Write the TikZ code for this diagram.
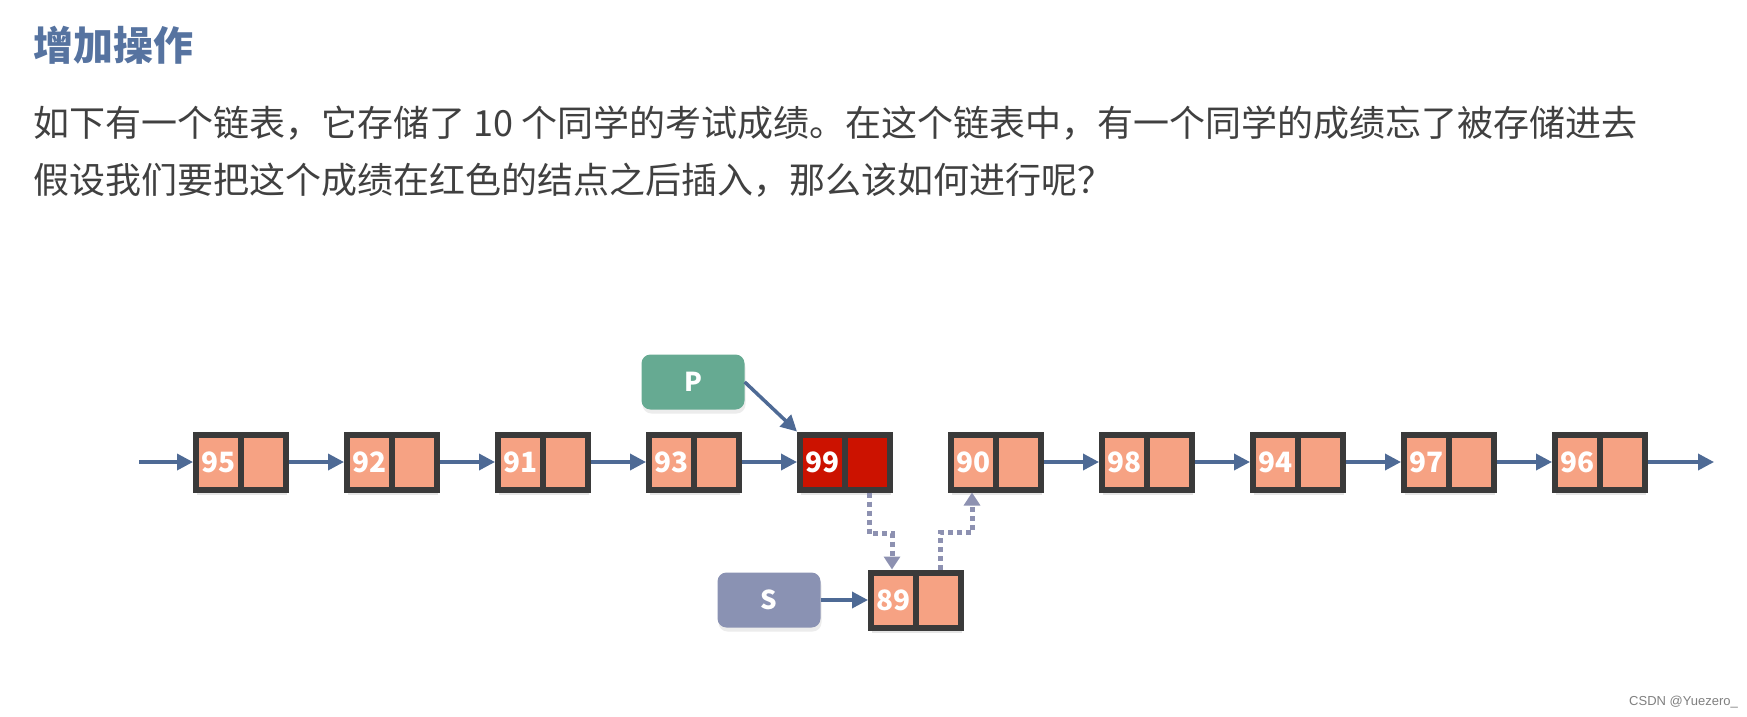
\documentclass[tikz,border=0pt]{standalone}
\usepackage{fontspec}
\setmainfont{Noto Sans CJK SC}
\newfontfamily\marksans{Liberation Sans}
\usetikzlibrary{arrows.meta,shadows}
\definecolor{boxline}{HTML}{3A3A3A}
\definecolor{salmon}{HTML}{F6A283}
\definecolor{hot}{HTML}{CC1200}
\definecolor{ptrgreen}{HTML}{66AA92}
\definecolor{ptrgray}{HTML}{8A92B3}
\definecolor{linkblue}{HTML}{4E6A95}
\definecolor{dotgray}{HTML}{8D91B1}
\definecolor{headblue}{HTML}{5673A0}
\definecolor{bodytext}{HTML}{404040}
\newcommand{\cellval}[1]{\makebox[90pt][l]{\makebox[45pt]{#1}}}
\begin{document}
\begin{tikzpicture}[x=1pt,y=-1pt,node distance=151pt]
\tikzstyle{cell}=[draw=boxline,line width=6pt,fill=salmon,minimum width=90pt,
  minimum height=55pt,inner sep=0pt,outer sep=3pt,text=white,
  font=\fontsize{28}{28}\selectfont\bfseries,
  drop shadow={opacity=0.2,shadow xshift=1pt,shadow yshift=-5pt},
  path picture={\draw[boxline,line width=6pt] (path picture bounding box.north)
    -- (path picture bounding box.south);}]
\tikzstyle{ptr}=[minimum width=103pt,minimum height=55pt,rounded corners=9pt,
  text=white,font=\fontsize{26}{26}\selectfont\bfseries,
  drop shadow={opacity=0.15,shadow xshift=1pt,shadow yshift=-4pt}]
\tikzstyle{nextarrow}=[linkblue,line width=3.5pt,-{Triangle[length=16pt,width=16pt]}]
\tikzstyle{newarrow}=[dotgray,line width=5pt,dash pattern=on 5pt off 4pt,
  -{Triangle[length=13pt,width=16pt]}]
\fill[white] (0,0) rectangle (1747,716);
\useasboundingbox (0,0) rectangle (1747,716);
% text
\node[anchor=west,inner sep=0pt,text=headblue,font=\fontsize{40}{40}\selectfont\bfseries]
  (title) at (33,45) {增加操作};
\node[anchor=west,inner sep=0pt,text=bodytext,font=\fontsize{36}{36}\selectfont]
  (line1) at (33,123) {如下有一个链表，它存储了 10 个同学的考试成绩。在这个链表中，有一个同学的成绩忘了被存储进去};
\node[anchor=west,inner sep=0pt,text=bodytext,font=\fontsize{36}{36}\selectfont]
  (line2) at (33,180) {假设我们要把这个成绩在红色的结点之后插入，那么该如何进行呢？};
% list
\node[cell] (n95) at (241,462) {\cellval{95}};
\node[cell] (n92) [right of=n95] {\cellval{92}};
\node[cell] (n91) [right of=n92] {\cellval{91}};
\node[cell] (n93) [right of=n91] {\cellval{93}};
\node[cell,fill=hot] (n99) [right of=n93] {\cellval{99}};
\node[cell] (n90) [right of=n99] {\cellval{90}};
\node[cell] (n98) [right of=n90] {\cellval{98}};
\node[cell] (n94) [right of=n98] {\cellval{94}};
\node[cell] (n97) [right of=n94] {\cellval{97}};
\node[cell] (n96) [right of=n97] {\cellval{96}};
\node[cell] (n89) at (916,600) {\cellval{89}};
\node[ptr,fill=ptrgreen] (p) at (693,382) {P};
\node[ptr,fill=ptrgray] (s) at (769,600) {S};
\coordinate (in) at (139,462);
\coordinate (out) at (1714,462);
\draw[nextarrow] (in) -- (n95);
\draw[nextarrow] (n95) -- (n92);
\draw[nextarrow] (n92) -- (n91);
\draw[nextarrow] (n91) -- (n93);
\draw[nextarrow] (n93) -- (n99);
\draw[nextarrow] (n90) -- (n98);
\draw[nextarrow] (n98) -- (n94);
\draw[nextarrow] (n94) -- (n97);
\draw[nextarrow] (n97) -- (n96);
\draw[nextarrow] (n96) -- (out);
\draw[nextarrow] (p.east) -- (n99.north west);
\draw[nextarrow] (s) -- (n89);
% new links
\draw[newarrow] ([xshift=24pt]n99.south) -- ++(0,41) -| ([xshift=-24pt]n89.north);
\draw[newarrow] ([xshift=24pt]n89.north) -- ++(0,-37) -| ([xshift=-24pt]n90.south);
\node[anchor=east,inner sep=0pt,text=gray,font=\marksans\fontsize{13}{13}\selectfont]
  (mark) at (1738,702) {CSDN @Yuezero\_};
\end{tikzpicture}
\end{document}
